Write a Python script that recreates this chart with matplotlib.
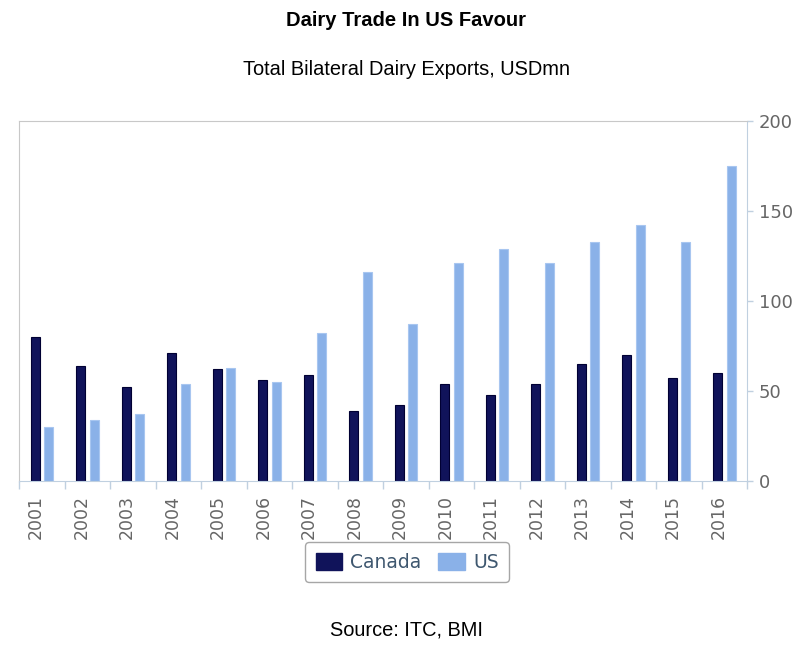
import matplotlib.pyplot as plt
import numpy as np
from matplotlib.patches import Patch

years = [str(y) for y in range(2001, 2017)]
canada = [80, 64, 52, 71, 62, 56, 59, 39, 42, 54, 48, 54, 65, 70, 57, 60]
us = [30, 34, 37, 54, 63, 55, 82, 116, 87, 121, 129, 121, 133, 142, 133, 175]

navy = '#10135a'
light = '#8ab1e8'
axis_col = '#c0d0e0'

fig = plt.figure(figsize=(8, 6.5), dpi=100)
ax = fig.add_axes([0.024, 0.26, 0.91, 0.554])

x = np.arange(len(years))
w = 0.2
ax.bar(x - 0.15, canada, w, color=navy, edgecolor='#000033', linewidth=0.8)
ax.bar(x + 0.15, us, w, color=light, edgecolor='#a8c6f0', linewidth=0.8)

ax.set_xlim(-0.5, len(years) - 0.5)
ax.set_ylim(0, 200)

# y axis on the right
ax.yaxis.tick_right()
ax.set_yticks([0, 50, 100, 150, 200])
ax.tick_params(axis='y', colors=axis_col, labelcolor='#666666', labelsize=13,
               length=4.5, width=1, pad=4)

# x ticks at category boundaries, labels at centres
ax.set_xticks(np.arange(-0.5, len(years)), minor=True)
ax.set_xticks(x - 0.13)
ax.set_xticklabels(years, rotation=90, color='#666666', fontsize=12.5)
ax.tick_params(axis='x', which='major', length=0, pad=10)
ax.tick_params(axis='x', which='minor', colors=axis_col, length=5.5, width=1)

for s in ['left', 'top']:
    ax.spines[s].set_color('#c8c8c8')
ax.spines['right'].set_color(axis_col)
ax.spines['bottom'].set_color(axis_col)

fig.text(0.508, 0.969, 'Dairy Trade In US Favour', ha='center', va='center',
         fontsize=14.5, fontweight='bold', family='Liberation Sans')
fig.text(0.508, 0.893, 'Total Bilateral Dairy Exports, USDmn', ha='center', va='center',
         fontsize=14.4, family='Liberation Sans')
fig.text(0.508, 0.03, 'Source: ITC, BMI', ha='center', va='center',
         fontsize=14.4, family='Liberation Sans')

handles = [Patch(facecolor=navy, edgecolor=navy), Patch(facecolor=light, edgecolor=light)]
leg = fig.legend(handles, ['Canada', 'US'], loc='center', bbox_to_anchor=(0.509, 0.135),
                 ncol=2, fontsize=13.5, frameon=True, fancybox=True, handlelength=1.4,
                 handleheight=1.05, handletextpad=0.45, columnspacing=0.9,
                 borderpad=0.55, labelcolor='#3e576f')
leg.get_frame().set_edgecolor('#909090')
leg.get_frame().set_linewidth(1)

fig.savefig('out.png', dpi=100)
